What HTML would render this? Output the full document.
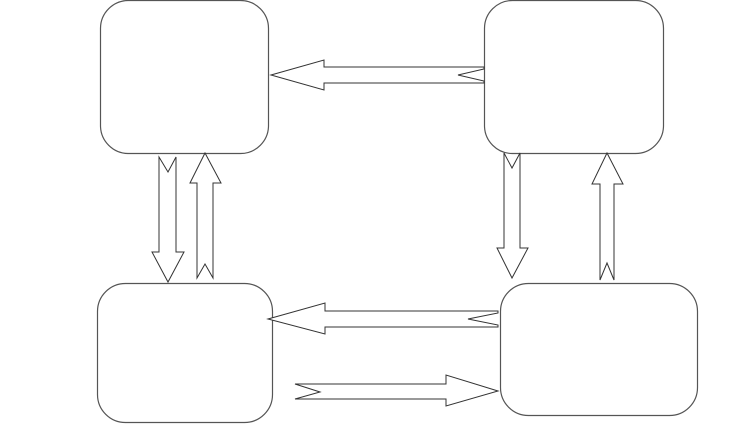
<!DOCTYPE html>
<html><head><meta charset="utf-8"><style>html,body{margin:0;padding:0;background:#fff}svg{display:block}</style></head>
<body>
<svg width="749" height="436" viewBox="0 0 749 436" xmlns="http://www.w3.org/2000/svg">
<g fill="#fff" stroke="#555" stroke-width="1.2">
<rect x="100.5" y="0.5" width="168" height="153" rx="28"/>
<rect x="484.5" y="0.5" width="179" height="153" rx="28"/>
<rect x="97.5" y="283.5" width="175" height="139" rx="28"/>
<rect x="500.5" y="283.5" width="197" height="132" rx="28"/>
</g>
<g fill="#fff" stroke="#333" stroke-width="1">
<polygon points="271,75 324,60 324,67 484,67 484,69 458,75 484,81 484,83 324,83 324,90"/>
<polygon points="159,157 168,172 176,157 176,252 184,252 168,282 152,252 159,252"/>
<polygon points="205,153 221,183 213,183 213,278 205,264 197,278 197,183 190,183"/>
<polygon points="504,153 512,168 520,153 520,248 528,248 512,278 497,248 504,248"/>
<polygon points="607,153 623,184 614,184 614,280 607,263 600,280 600,184 592,184"/>
<polygon points="268,319 325,303 325,311 498,311 498,313 468,319 498,325 498,327 325,327 325,334"/>
<polygon points="295,384 446,384 446,375 498,391 446,406 446,399 295,399 320,392 295,384"/>
</g>
</svg>
</body></html>
